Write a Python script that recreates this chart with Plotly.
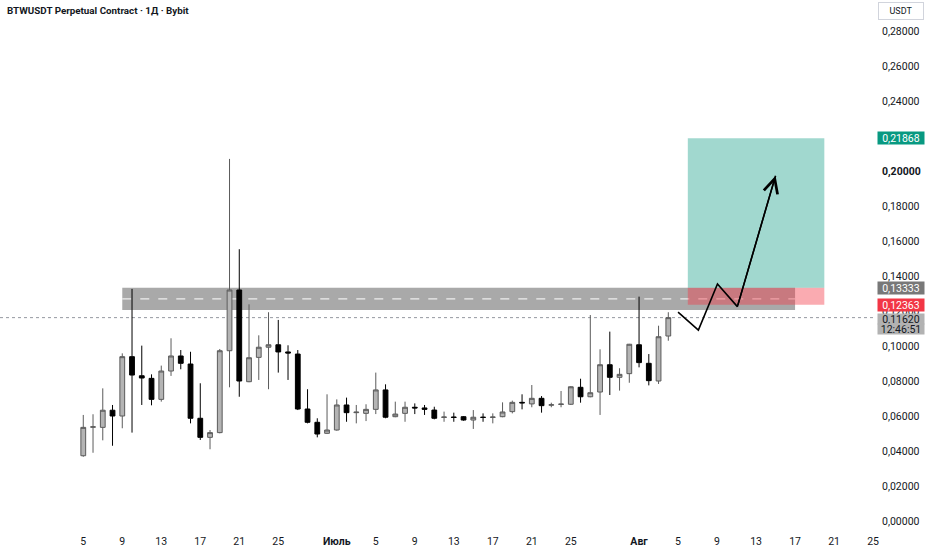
import plotly.graph_objects as go
import pandas as pd

# ---------------- data ----------------
dates = pd.date_range("2025-06-05", "2025-08-04", freq="D")

opens = [0.0373, 0.0536, 0.0535, 0.0633, 0.0600, 0.0939, 0.0830, 0.0815, 0.0695, 0.0857,
         0.0943, 0.0897, 0.0587, 0.0478, 0.0505, 0.0973, 0.1320, 0.0796, 0.0935, 0.0993,
         0.1007, 0.0966, 0.0954, 0.0640, 0.0564, 0.0501, 0.0520, 0.0663, 0.0619, 0.0615,
         0.0638, 0.0749, 0.0596, 0.0615, 0.0650, 0.0646, 0.0634, 0.0592, 0.0594, 0.0596,
         0.0577, 0.0593, 0.0592, 0.0596, 0.0625, 0.0678, 0.0669, 0.0701, 0.0662, 0.0666,
         0.0667, 0.0764, 0.0710, 0.0737, 0.0893, 0.0821, 0.0842, 0.1007, 0.0901, 0.0800,
         0.1057]
highs = [0.0606, 0.0610, 0.0758, 0.0663, 0.0958, 0.1326, 0.1002, 0.0838, 0.0888, 0.1044,
         0.0977, 0.0967, 0.0787, 0.0520, 0.0983, 0.2069, 0.1553, 0.1238, 0.1061, 0.1193,
         0.1149, 0.1004, 0.0977, 0.0753, 0.0587, 0.0724, 0.0695, 0.0705, 0.0663, 0.0667,
         0.0848, 0.0781, 0.0682, 0.0682, 0.0672, 0.0663, 0.0653, 0.0625, 0.0619, 0.0600,
         0.0634, 0.0615, 0.0615, 0.0678, 0.0688, 0.0724, 0.0777, 0.0714, 0.0676, 0.0743,
         0.0771, 0.0813, 0.1177, 0.0981, 0.1082, 0.0873, 0.1012, 0.1282, 0.0954, 0.1116,
         0.1193]
lows = [0.0367, 0.0390, 0.0461, 0.0430, 0.0530, 0.0505, 0.0663, 0.0661, 0.0682, 0.0829,
        0.0867, 0.0558, 0.0463, 0.0410, 0.0501, 0.0764, 0.0710, 0.0793, 0.0806, 0.0753,
        0.0848, 0.0806, 0.0634, 0.0558, 0.0478, 0.0497, 0.0516, 0.0567, 0.0558, 0.0571,
        0.0611, 0.0587, 0.0593, 0.0567, 0.0611, 0.0606, 0.0581, 0.0567, 0.0567, 0.0573,
        0.0526, 0.0567, 0.0558, 0.0593, 0.0615, 0.0638, 0.0650, 0.0619, 0.0650, 0.0650,
        0.0663, 0.0676, 0.0707, 0.0606, 0.0720, 0.0745, 0.0790, 0.0878, 0.0775, 0.0783,
        0.1030]
closes = [0.0535, 0.0538, 0.0633, 0.0600, 0.0939, 0.0834, 0.0817, 0.0695, 0.0857, 0.0943,
          0.0901, 0.0587, 0.0478, 0.0505, 0.0973, 0.1320, 0.0800, 0.0933, 0.0993, 0.1007,
          0.0966, 0.0960, 0.0640, 0.0564, 0.0497, 0.0520, 0.0663, 0.0619, 0.0622, 0.0638,
          0.0749, 0.0593, 0.0611, 0.0650, 0.0646, 0.0638, 0.0587, 0.0594, 0.0592, 0.0577,
          0.0593, 0.0592, 0.0594, 0.0623, 0.0678, 0.0675, 0.0701, 0.0659, 0.0664, 0.0668,
          0.0767, 0.0710, 0.0733, 0.0893, 0.0821, 0.0838, 0.1010, 0.0905, 0.0802, 0.1053,
          0.1162]

x_tick_dates = ["2025-06-05", "2025-06-09", "2025-06-13", "2025-06-17", "2025-06-21", "2025-06-25",
                "2025-07-01", "2025-07-05", "2025-07-09", "2025-07-13", "2025-07-17", "2025-07-21",
                "2025-07-25", "2025-08-01", "2025-08-05", "2025-08-09", "2025-08-13", "2025-08-17",
                "2025-08-21", "2025-08-25"]
x_tick_labels = ["5", "9", "13", "17", "21", "25", "<b>Июль</b>", "5", "9", "13", "17", "21",
                 "25", "<b>Авг</b>", "5", "9", "13", "17", "21", "25"]

y_tick_values = [0.00, 0.02, 0.04, 0.06, 0.08, 0.10, 0.12, 0.14, 0.16, 0.18, 0.20, 0.22, 0.24, 0.26, 0.28]

# drawings
zone_dates = ["2025-06-09", "2025-08-17"]
zone_prices = [0.1206, 0.1333]
zone_mid = 0.1269
position_dates = ["2025-08-06", "2025-08-20"]
entry_price = 0.13333
target_price = 0.21868
stop_price = 0.12363
last_price = 0.1162
last_time = "12:46:51"
arrow_dates = ["2025-08-05 00:00", "2025-08-07 02:00", "2025-08-09 01:00", "2025-08-11 02:00", "2025-08-15 00:00"]
arrow_prices = [0.1193, 0.1091, 0.1354, 0.1225, 0.1973]

FONT = "Roboto"
TXT = "#131722"


def fmt(v):
    return f"{v:.5f}".replace(".", ",")


y_tick_text = [("<b>%s</b>" % fmt(v)) if abs(v - 0.20) < 1e-9 else fmt(v) for v in y_tick_values]

fig = go.Figure()
fig.add_trace(go.Candlestick(
    x=dates, open=opens, high=highs, low=lows, close=closes,
    increasing=dict(line=dict(color="#5b5b5b", width=1), fillcolor="#b4b4b4"),
    decreasing=dict(line=dict(color="#000000", width=1), fillcolor="#000000"),
    whiskerwidth=0, showlegend=False, hoverinfo="skip",
))

fig.add_trace(go.Scatter(
    x=arrow_dates, y=arrow_prices, mode="lines",
    line=dict(color="#000000", width=1.6), showlegend=False, hoverinfo="skip",
))

shapes = [
    dict(type="rect", xref="x", yref="y", x0=zone_dates[0], x1=zone_dates[1],
         y0=zone_prices[0], y1=zone_prices[1], fillcolor="#a9a9a9", line=dict(width=0), layer="below"),
    dict(type="line", xref="x", yref="y", x0=zone_dates[0], x1=zone_dates[1],
         y0=zone_mid, y1=zone_mid, line=dict(color="#ffffff", width=1, dash="dash"), layer="below"),
    dict(type="rect", xref="x", yref="y", x0=position_dates[0], x1=position_dates[1],
         y0=stop_price, y1=entry_price, fillcolor="rgba(242,54,69,0.42)", line=dict(width=0), layer="below"),
    dict(type="rect", xref="x", yref="y", x0=position_dates[0], x1=position_dates[1],
         y0=entry_price, y1=target_price, fillcolor="rgba(8,153,129,0.38)", line=dict(width=0), layer="below"),
    dict(type="line", xref="paper", yref="y", x0=0, x1=1, y0=last_price, y1=last_price,
         line=dict(color="#9598a1", width=1, dash="dot"), layer="below"),
]

LBL_W = 46
annotations = [
    dict(x=arrow_dates[-1], y=arrow_prices[-1], ax=arrow_dates[-2], ay=arrow_prices[-2],
         xref="x", yref="y", axref="x", ayref="y", text="", showarrow=True,
         arrowhead=5, arrowsize=2.0, arrowwidth=1.4, arrowcolor="#000000", standoff=0),
    dict(x=0, y=1, xref="paper", yref="paper", xanchor="left", yanchor="top", xshift=5, yshift=-3,
         text="<b>BTWUSDT Perpetual Contract · 1Д · Bybit</b>", showarrow=False,
         font=dict(family=FONT, size=9.8, color=TXT)),
    dict(x=1, y=1, xref="paper", yref="paper", xanchor="left", yanchor="top", xshift=2, yshift=-2,
         text="USDT", showarrow=False, bordercolor="#d1d4dc", borderwidth=1, borderpad=0,
         width=44, height=16, font=dict(family=FONT, size=9, color=TXT)),
    dict(x=1, y=target_price, xref="paper", yref="y", xanchor="left", yanchor="middle", xshift=1,
         text=fmt(target_price), showarrow=False, bgcolor="#089981", borderpad=0, width=LBL_W, height=12,
         font=dict(family=FONT, size=10.5, color="#ffffff")),
    dict(x=1, y=entry_price, xref="paper", yref="y", xanchor="left", yanchor="middle", xshift=1,
         text=fmt(entry_price), showarrow=False, bgcolor="#787878", borderpad=0, width=LBL_W, height=12,
         font=dict(family=FONT, size=10.5, color="#ffffff")),
    dict(x=1, y=stop_price, xref="paper", yref="y", xanchor="left", yanchor="middle", xshift=1,
         text=fmt(stop_price), showarrow=False, bgcolor="#f23645", borderpad=0, width=LBL_W, height=12,
         font=dict(family=FONT, size=10.5, color="#ffffff")),
    dict(x=1, y=last_price, xref="paper", yref="y", xanchor="left", yanchor="top", xshift=1, yshift=5,
         text=fmt(last_price), showarrow=False, bgcolor="#b2b2b2", borderpad=0, width=LBL_W, height=10,
         font=dict(family=FONT, size=10.5, color=TXT)),
    dict(x=1, y=last_price, xref="paper", yref="y", xanchor="left", yanchor="top", xshift=1, yshift=-5,
         text=last_time, showarrow=False, bgcolor="#b2b2b2", borderpad=0, width=LBL_W, height=10,
         font=dict(family=FONT, size=10.5, color=TXT)),
]

base = pd.Timestamp("2025-06-05")
x_range = [base + pd.Timedelta(days=-8.54), base + pd.Timedelta(days=81.3)]

fig.update_layout(
    width=932, height=550,
    margin=dict(l=0, r=56, t=0, b=20),
    paper_bgcolor="#ffffff", plot_bgcolor="#ffffff",
    font=dict(family=FONT, size=11, color=TXT),
    showlegend=False,
    shapes=shapes, annotations=annotations,
    xaxis=dict(type="date", range=x_range, tickvals=x_tick_dates, ticktext=x_tick_labels,
               showgrid=False, zeroline=False, showline=False, ticks="", ticklabelstandoff=3,
               rangeslider=dict(visible=False), tickfont=dict(size=10.5, color=TXT, family=FONT)),
    yaxis=dict(side="right", range=[-0.00514, 0.2977], tickvals=y_tick_values, ticktext=y_tick_text,
               showgrid=False, zeroline=False, showline=False, ticks="", ticklabelstandoff=5,
               tickfont=dict(size=10.5, color=TXT, family=FONT)),
)

fig.write_html("out.html", config={"displayModeBar": False},
               post_script="document.body.style.margin='0px';document.body.style.overflow='hidden';")
